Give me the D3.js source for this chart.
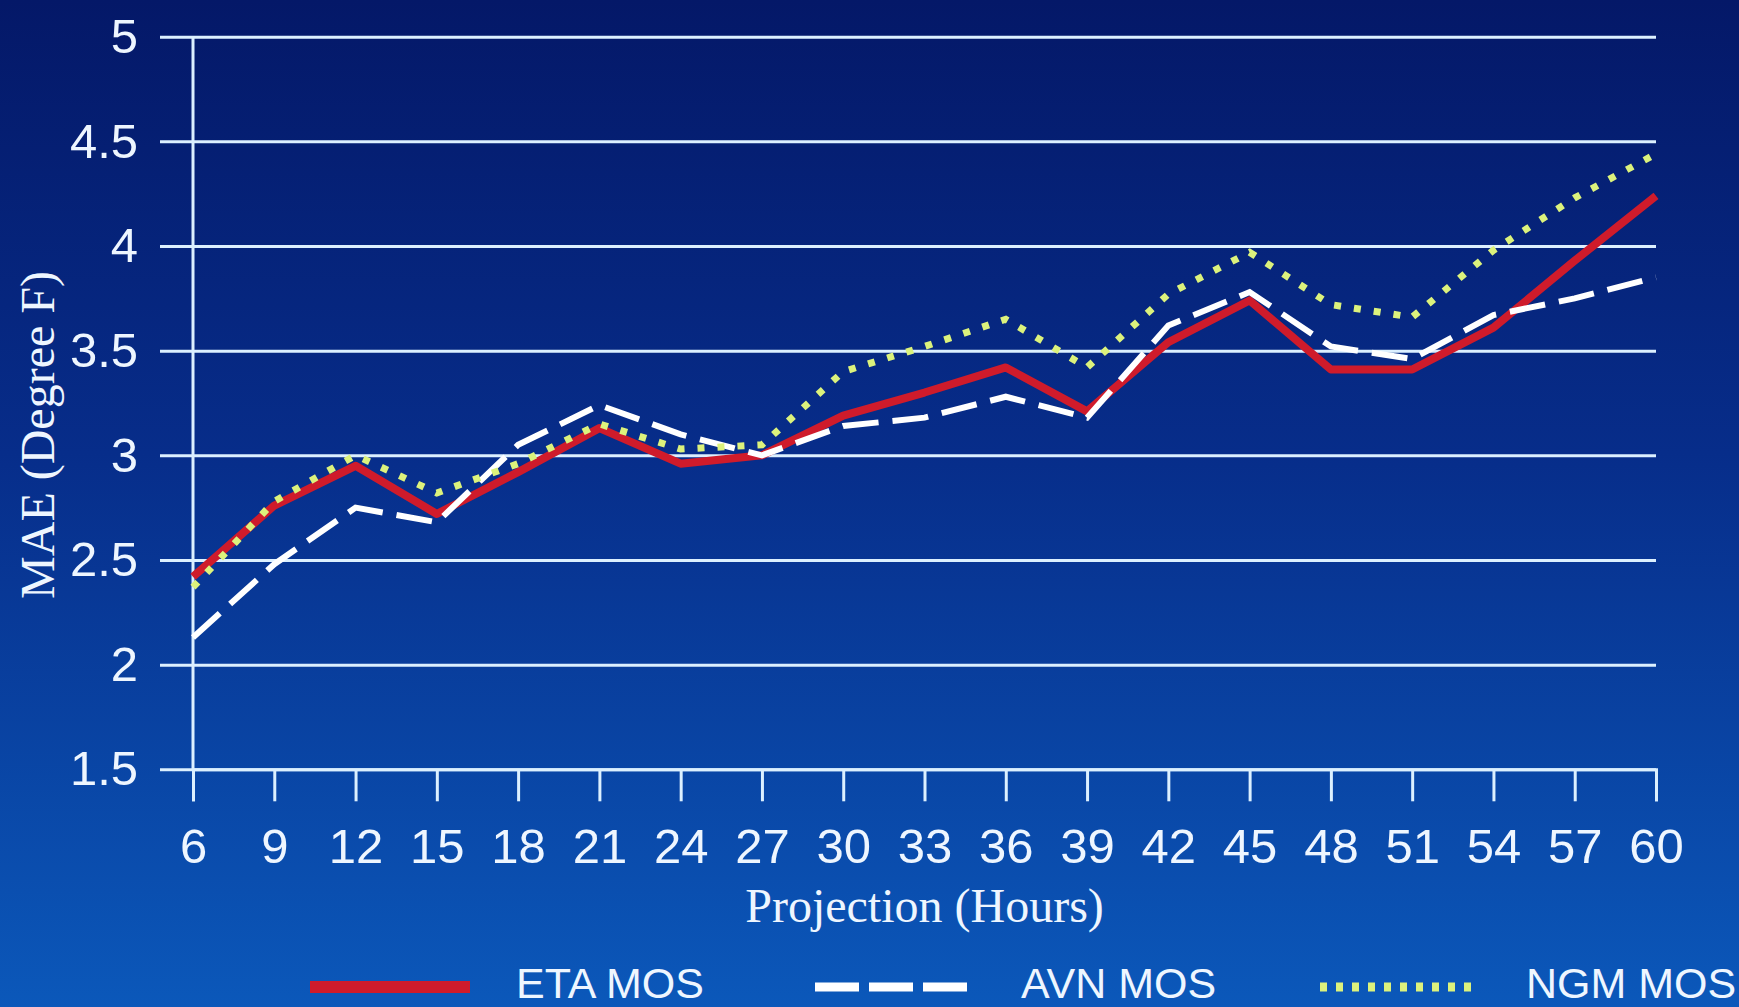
<!DOCTYPE html>
<html>
<head>
<meta charset="utf-8">
<script src="https://cdn.jsdelivr.net/npm/d3@7"></script>
<style>
  body { margin: 0; overflow: hidden; }
  svg { display: block; }
  .tick text { fill: #eef6ff; font-family: "Liberation Sans", Arial, sans-serif; font-size: 49px; }
  .title { fill: #eef6ff; font-family: "Liberation Serif", "Times New Roman", serif; font-size: 48px; }
  .legend text { fill: #eef6ff; font-family: "Liberation Sans", Arial, sans-serif; font-size: 43px; }
</style>
</head>
<body>
<script>
// projection hours and MAE values (degree F)
var hours = [6, 9, 12, 15, 18, 21, 24, 27, 30, 33, 36, 39, 42, 45, 48, 51, 54, 57, 60];
var etaMos = [2.42, 2.76, 2.95, 2.72, 2.92, 3.13, 2.96, 3.00, 3.19, 3.30, 3.42, 3.21, 3.54, 3.74, 3.41, 3.41, 3.61, 3.93, 4.24];
var avnMos = [2.13, 2.48, 2.75, 2.68, 3.05, 3.24, 3.10, 3.00, 3.14, 3.18, 3.28, 3.18, 3.62, 3.78, 3.52, 3.46, 3.67, 3.75, 3.85];
var ngmMos = [2.37, 2.78, 3.00, 2.82, 2.96, 3.15, 3.03, 3.05, 3.40, 3.52, 3.65, 3.42, 3.77, 3.97, 3.72, 3.66, 3.98, 4.23, 4.44];
var yTicks = [1.5, 2, 2.5, 3, 3.5, 4, 4.5, 5];
var seriesNames = ["ETA MOS", "AVN MOS", "NGM MOS"];

var W = 1739, H = 1007;
var plotLeft = 193, plotRight = 1656, plotTop = 36.7, plotBottom = 769.3;

var svg = d3.select("body").append("svg")
  .attr("width", W)
  .attr("height", H);

// background gradient, dark navy to brighter blue
var grad = svg.append("defs").append("linearGradient")
  .attr("id", "bg")
  .attr("x1", 0).attr("y1", 0).attr("x2", 0).attr("y2", 1);
grad.append("stop").attr("offset", "0%").attr("stop-color", "#041868");
grad.append("stop").attr("offset", "45%").attr("stop-color", "#072d8a");
grad.append("stop").attr("offset", "100%").attr("stop-color", "#0b58ba");
svg.append("rect").attr("width", W).attr("height", H).attr("fill", "url(#bg)");

var x = d3.scaleLinear().domain([6, 60]).range([plotLeft, plotRight]);
var y = d3.scaleLinear().domain([1.5, 5]).range([plotBottom, plotTop]);

var gridColor = "#dcf0ff";

// y axis: gridlines drawn as long ticks starting a little left of the axis
var yAxis = svg.append("g")
  .attr("transform", "translate(" + plotRight + ",0)")
  .call(d3.axisLeft(y).tickValues(yTicks).tickSize(plotRight - 160).tickPadding(22)
    .tickFormat(d3.format("")));
yAxis.select(".domain").remove();
yAxis.selectAll(".tick line").attr("stroke", gridColor).attr("stroke-width", 3);

// x axis with downward ticks
var xAxis = svg.append("g")
  .attr("transform", "translate(0," + plotBottom + ")")
  .call(d3.axisBottom(x).tickValues(hours).tickSize(32).tickPadding(27));
xAxis.select(".domain").attr("stroke", gridColor).attr("stroke-width", 3);
xAxis.selectAll(".tick line").attr("stroke", gridColor).attr("stroke-width", 3);

// vertical axis line
svg.append("line")
  .attr("x1", plotLeft).attr("x2", plotLeft)
  .attr("y1", y(5)).attr("y2", plotBottom)
  .attr("stroke", gridColor).attr("stroke-width", 3);

// series
var line = d3.line()
  .x(function (d, i) { return x(hours[i]); })
  .y(function (d) { return y(d); });

svg.append("path").datum(etaMos)
  .attr("d", line)
  .attr("fill", "none")
  .attr("stroke", "#cf1b2b")
  .attr("stroke-width", 8)
  .attr("stroke-linejoin", "round");

svg.append("path").datum(avnMos)
  .attr("d", line)
  .attr("fill", "none")
  .attr("stroke", "#ffffff")
  .attr("stroke-width", 6)
  .attr("stroke-dasharray", "36,14");

svg.append("path").datum(ngmMos)
  .attr("d", line)
  .attr("fill", "none")
  .attr("stroke", "#dcf27c")
  .attr("stroke-width", 7)
  .attr("stroke-dasharray", "7,13");

// axis titles
svg.append("text").attr("class", "title")
  .attr("x", (plotLeft + plotRight) / 2).attr("y", 922)
  .attr("text-anchor", "middle")
  .text("Projection (Hours)");

svg.append("text").attr("class", "title")
  .attr("transform", "translate(54,435) rotate(-90)")
  .attr("text-anchor", "middle")
  .text("MAE (Degree F)");

// legend
var legendStyles = [
  { color: "#cf1b2b", width: 12, dash: null },
  { color: "#ffffff", width: 9, dash: "44,10" },
  { color: "#dcf27c", width: 9, dash: "7,9" }
];
var legend = svg.append("g").attr("class", "legend");
seriesNames.forEach(function (name, i) {
  var x0 = 310 + i * 505;
  var s = legendStyles[i];
  var l = legend.append("line")
    .attr("x1", x0).attr("x2", x0 + 160)
    .attr("y1", 987).attr("y2", 987)
    .attr("stroke", s.color)
    .attr("stroke-width", s.width);
  if (s.dash) l.attr("stroke-dasharray", s.dash);
  legend.append("text")
    .attr("x", x0 + 206).attr("y", 998)
    .text(name);
});
</script>
</body>
</html>
